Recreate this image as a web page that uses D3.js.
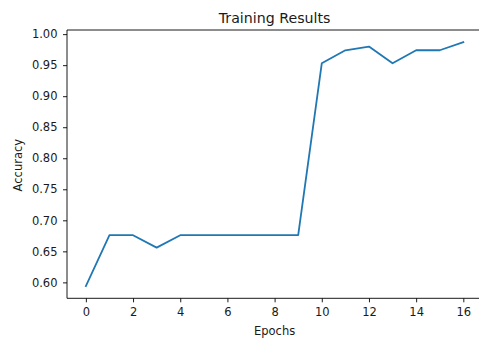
<!DOCTYPE html>
<html>
<head>
<meta charset="utf-8">
<script src="https://cdn.jsdelivr.net/npm/d3@7"></script>
<style>
  html, body { margin: 0; padding: 0; background: #fff; }
  svg { display: block; font-family: "DejaVu Sans", sans-serif; }
</style>
</head>
<body>
<svg id="chart" width="479" height="339"></svg>
<script>
const epochs = [0, 1, 2, 3, 4, 5, 6, 7, 8, 9, 10, 11, 12, 13, 14, 15, 16];
const accuracy = [0.594, 0.676, 0.676, 0.656, 0.676, 0.676, 0.676, 0.676, 0.676, 0.676,
                  0.953, 0.974, 0.980, 0.953, 0.974, 0.974, 0.987];
const xTicks = [0, 2, 4, 6, 8, 10, 12, 14, 16];
const yTicks = [0.60, 0.65, 0.70, 0.75, 0.80, 0.85, 0.90, 0.95, 1.00];
const title = "Training Results";
const xLabel = "Epochs";
const yLabel = "Accuracy";

const svg = d3.select("#chart");
const mLeft = 67, mRight = 482.2, mTop = 30, mBottom = 298.3;

const xExt = d3.extent(epochs), xPad = (xExt[1] - xExt[0]) * 0.05;
const yExt = d3.extent(accuracy), yPad = (yExt[1] - yExt[0]) * 0.05;
const x = d3.scaleLinear().domain([xExt[0] - xPad, xExt[1] + xPad]).range([mLeft, mRight]);
const y = d3.scaleLinear().domain([yExt[0] - yPad, yExt[1] + yPad]).range([mBottom, mTop]);

// line
svg.append("path")
  .datum(epochs.map((e, i) => [e, accuracy[i]]))
  .attr("fill", "none")
  .attr("stroke", "#1f77b4")
  .attr("stroke-width", 1.8)
  .attr("stroke-linejoin", "round")
  .attr("stroke-linecap", "square")
  .attr("d", d3.line().x(d => x(d[0])).y(d => y(d[1])));

// axes
const xAxis = d3.axisBottom(x).tickValues(xTicks).tickFormat(d3.format("d")).tickSizeInner(4).tickSizeOuter(0).tickPadding(6);
const yAxis = d3.axisLeft(y).tickValues(yTicks).tickFormat(d3.format(".2f")).tickSizeInner(4).tickSizeOuter(0).tickPadding(5.5);

const gx = svg.append("g").attr("transform", `translate(0,${mBottom})`).call(xAxis);
const gy = svg.append("g").attr("transform", `translate(${mLeft},0)`).call(yAxis);
[gx, gy].forEach(g => {
  g.select(".domain").remove();
  g.selectAll(".tick line").attr("stroke", "#000").attr("stroke-width", 0.9);
  g.selectAll(".tick text").attr("fill", "#1a1a1a").style("font-family", "DejaVu Sans").style("font-size", "11.5px");
});

// spines
const sp = svg.append("g").attr("stroke", "#000").attr("stroke-width", 0.9).attr("fill", "none");
sp.append("line").attr("x1", mLeft).attr("x2", mLeft).attr("y1", mTop).attr("y2", mBottom);
sp.append("line").attr("x1", mLeft).attr("x2", mRight).attr("y1", mBottom).attr("y2", mBottom);
sp.append("line").attr("x1", mLeft).attr("x2", mRight).attr("y1", mTop).attr("y2", mTop);
sp.append("line").attr("x1", mRight).attr("x2", mRight).attr("y1", mTop).attr("y2", mBottom);

// labels
svg.append("text").attr("x", (mLeft + mRight) / 2).attr("y", 23.3)
  .attr("text-anchor", "middle").style("font-size", "14.2px").attr("fill", "#1a1a1a").text(title);
svg.append("text").attr("x", (mLeft + mRight) / 2).attr("y", 335)
  .attr("text-anchor", "middle").style("font-size", "11.5px").attr("fill", "#1a1a1a").text(xLabel);
svg.append("text").attr("transform", `translate(21.7,${(mTop + mBottom) / 2 + 1}) rotate(-90)`)
  .attr("text-anchor", "middle").style("font-size", "11.5px").attr("fill", "#1a1a1a").text(yLabel);
</script>
</body>
</html>
